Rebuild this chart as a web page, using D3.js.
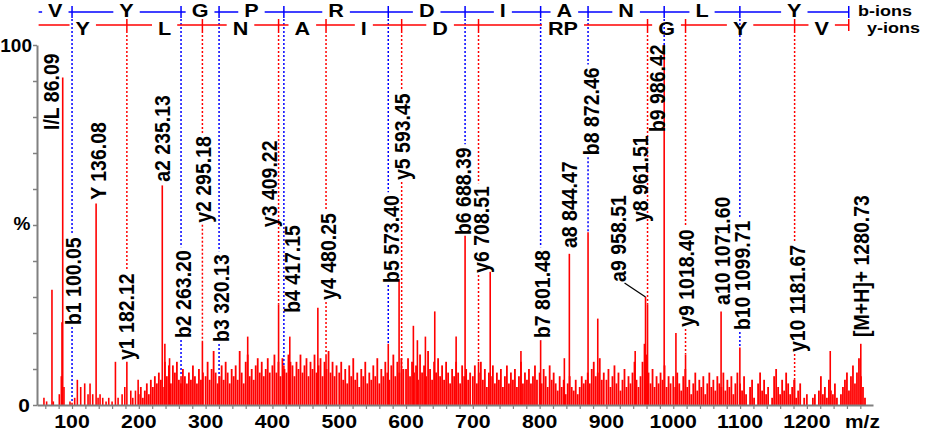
<!DOCTYPE html>
<html>
<head>
<meta charset="utf-8">
<script src="https://cdn.jsdelivr.net/npm/d3@7"></script>
<style>
  body { margin: 0; background: #fff; }
  svg { display: block; }
  text { font-family: "Liberation Sans", Arial, sans-serif; }
</style>
</head>
<body>
<div id="chart"></div>
<script>
// ---- data (m/z, relative intensity %) ----
// annotated fragment ions
const ionText = ['I/L 86.09', 'Y 136.08', 'a2 235.13', 'b1 100.05', 'y1 182.12', 'b2 263.20', 'y2 295.18',
  'b3 320.13', 'y3 409.22', 'b4 417.15', 'y4 480.25', 'b5 573.40', 'y5 593.45', 'b6 688.39', 'y6 708.51',
  'b7 801.48', 'a8 844.47', 'b8 872.46', 'a9 958.51', 'y8 961.51', 'b9 986.42', 'y9 1018.40',
  'a10 1071.60', 'b10 1099.71', 'y10 1181.67', '[M+H]+ 1280.73'];
const ionMz = [86.09, 136.08, 235.13, 100.05, 182.12, 263.20, 295.18, 320.13, 409.22, 417.15, 480.25,
  573.40, 593.45, 688.39, 708.51, 801.48, 844.47, 872.46, 958.51, 961.51, 986.42, 1018.40, 1071.60,
  1099.71, 1181.67, 1280.73];
const ionInt = [91, 56, 61, 0.6, 12, 8, 17.5, 8, 28, 11, 14, 17, 10, 47, 12, 18, 42, 48, 30, 28, 100, 14,
  26, 16, 7, 17];
const ionType = ['i', 'i', 'a', 'b', 'y', 'b', 'y', 'b', 'y', 'b', 'y', 'b', 'y', 'b', 'y', 'b', 'a', 'b',
  'a', 'y', 'b', 'y', 'a', 'b', 'y', 'i'];

// other strong peaks (unlabelled)
const peakMz = [58, 62, 70, 72, 81, 84, 85, 88, 97, 104, 108, 113, 119, 124, 127, 131, 139, 142, 146, 151,
  155, 160, 165, 169, 175, 179, 188, 191, 195, 199, 239, 246, 363, 426, 468, 589.6, 611, 617, 629, 643, 675,
  726, 772, 837, 887, 943, 1004, 1235];
const peakInt = [2, 1, 32, 1, 3, 8, 23, 5, 1, 2, 7, 5, 6, 3, 6, 3, 2, 3, 2, 1, 2, 1, 12, 2, 3, 5, 4, 2, 4,
  7, 17, 13, 19, 19, 27, 35, 22, 18, 19, 26, 19, 37, 15, 13, 24, 15, 20, 15];

// background noise, one value every 3 m/z starting at each hundred
const grass200 = [3, 5, 2, 4, 6, 3, 7, 5, 8, 6, 9, 7, 5, 12, 8, 11, 6, 11, 9, 12, 7, 6, 10, 8, 6, 9, 7, 11, 8, 6, 10, 7, 9];
const grass300 = [8, 12, 7, 10, 15, 9, 6, 8, 11, 7, 12, 9, 6, 10, 8, 11, 7, 15, 9, 6, 12, 14, 8, 10, 7, 11, 13, 9, 12, 8, 10, 13, 9];
const grass400 = [11, 14, 9, 12, 8, 13, 10, 9, 14, 12, 11, 8, 12, 10, 14, 9, 11, 13, 8, 12, 10, 14, 9, 11, 13, 8, 12, 10, 15, 9, 12, 8, 11];
const grass500 = [9, 12, 7, 10, 6, 11, 8, 13, 7, 9, 5, 10, 8, 12, 6, 9, 7, 11, 8, 13, 6, 10, 8, 12, 9, 7, 11, 14, 8, 12, 9, 13, 10];
const grass600 = [10, 13, 8, 12, 9, 11, 7, 14, 9, 11, 8, 15, 10, 7, 12, 9, 13, 8, 11, 7, 12, 9, 6, 10, 8, 12, 9, 6, 11, 8, 10, 7, 9];
const grass700 = [8, 11, 6, 9, 12, 7, 10, 5, 9, 8, 11, 6, 9, 7, 10, 5, 8, 11, 6, 9, 7, 10, 5, 8, 12, 6, 9, 7, 10, 6, 8, 11, 7];
const grass800 = [9, 6, 10, 8, 5, 11, 7, 9, 6, 4, 8, 5, 7, 3, 6, 8, 5, 4, 7, 3, 5, 8, 6, 7, 9, 6, 10, 12, 8, 9, 13, 7, 9];
const grass900 = [7, 10, 5, 8, 11, 6, 9, 4, 7, 10, 5, 8, 6, 9, 12, 7, 5, 8, 12, 17, 14, 9, 6, 10, 5, 8, 6, 9, 7, 11, 5, 8, 6];
const grass1000 = [8, 5, 9, 6, 4, 8, 10, 5, 7, 3, 6, 9, 4, 7, 5, 8, 3, 6, 9, 5, 7, 4, 8, 6, 5, 9, 4, 7, 5, 8, 3, 6, 9];
const grass1100 = [6, 4, 8, 3, 0, 5, 7, 2, 0, 6, 9, 4, 7, 3, 5, 0, 2, 8, 10, 5, 3, 7, 4, 9, 6, 3, 5, 7, 2, 4, 6, 0, 2];
const grass1200 = [3, 0, 0, 2, 3, 0, 4, 8, 3, 5, 2, 7, 4, 3, 6, 2, 0, 3, 5, 7, 9, 4, 8, 11, 6, 9, 13, 8, 5, 2, 0, 0, 0];

// sequence ladders
const bLadderMz = [50, 100.05, 263.20, 320.13, 417.15, 573.40, 688.39, 801.48, 872.46, 986.42, 1099.71, 1262.7];
const bResidues = ['V', 'Y', 'G', 'P', 'R', 'D', 'I', 'A', 'N', 'L', 'Y'];
const yLadderMz = [50, 182.12, 295.18, 409.22, 480.25, 593.45, 708.51, 961.51, 1018.40, 1181.67, 1262.7];
const yResidues = ['Y', 'L', 'N', 'A', 'I', 'D', 'RP', 'G', 'Y', 'V'];

const xTicks = [100, 200, 300, 400, 500, 600, 700, 800, 900, 1000, 1100, 1200];

// ---- label layout: level (% where the rotated text starts) and horizontal nudge (px) ----
const labelLevel = [76.4, 57, 62, 22.2, 12.5, 18.6, 50.6, 17.5, 49.4, 25.6, 29.2, 33.9, 62.5, 47.2, 36.7,
  18.6, 43.6, 69.4, 34.2, 50.8, 75.8, 21.7, 27.8, 20.8, 14.7, 18.9];
const labelShift = [-11, 2, 0, 1, -1, 2, 1, 2, -9, 8, 2, 3, 1, -2, 3, 2, 0, 3, -27, -7, -7, 1, 1, 2, 3, 0];

const W = 926, H = 433;
const RED = '#ff0000', BLUE = '#0000ff', GREY = '#808080';
const SX = 1.2; // glyphs in the source are drawn wide

const svg = d3.select('#chart').append('svg').attr('width', W).attr('height', H);

const x = d3.scaleLinear().domain([47.6, 1299]).range([37, 873]);
const y = d3.scaleLinear().domain([0, 100]).range([405, 45]);

// ---- spectrum ----
const spikes = [];
[[200, grass200], [300, grass300], [400, grass400], [500, grass500], [600, grass600], [700, grass700],
 [800, grass800], [900, grass900], [1000, grass1000], [1100, grass1100], [1200, grass1200]]
  .forEach(([start, vals]) => vals.forEach((v, i) => { if (v > 0) spikes.push({ mz: start + i * 3, v: v, w: 1.8 }); }));
peakMz.forEach((m, i) => spikes.push({ mz: m, v: peakInt[i], w: 1.6 }));
ionMz.forEach((m, i) => spikes.push({ mz: m, v: ionInt[i], w: 1.6 }));

svg.append('g').selectAll('line').data(spikes).enter().append('line')
  .attr('x1', d => x(d.mz)).attr('x2', d => x(d.mz))
  .attr('y1', y(0)).attr('y2', d => y(d.v))
  .attr('stroke', RED).attr('stroke-width', d => d.w);

// ---- axes ----
const yAxis = d3.axisLeft(y).tickValues(d3.range(0, 101, 10)).tickFormat('').tickSize(4).tickSizeOuter(0);
const yg = svg.append('g').attr('transform', 'translate(37,0)').call(yAxis);
yg.select('.domain').attr('stroke', GREY).attr('stroke-width', 2);
yg.selectAll('.tick line').attr('stroke', GREY).attr('stroke-width', 1.5);

const xAxis = d3.axisBottom(x).tickValues(d3.range(60, 1300, 20)).tickFormat('').tickSize(4).tickSizeOuter(0);
const xg = svg.append('g').attr('transform', 'translate(0,405)').call(xAxis);
xg.select('.domain').attr('stroke', GREY).attr('stroke-width', 2);
xg.selectAll('.tick line').attr('stroke', GREY).attr('stroke-width', 1.2);

function hText(str, cx, base, size, anchor, sx) {
  return svg.append('text')
    .attr('transform', `translate(${cx},${base}) scale(${sx || SX},1)`)
    .attr('text-anchor', anchor || 'middle')
    .attr('font-size', size).attr('font-weight', 'bold')
    .attr('fill', '#000').text(str);
}

xTicks.forEach(t => hText(String(t), x(t), 428, 19, 'middle', 1.12));
hText('m/z', 845, 428, 19, 'start', 1.1);
hText('100', 32, 52, 19, 'end', 1);
hText('0', 24, 412, 19, 'middle', 1.1);
hText('%', 22, 230, 19, 'middle', 1);

// ---- annotation labels + dotted guides ----
const guides = svg.append('g');
const labels = svg.append('g');
ionText.forEach((t, i) => {
  const px = x(ionMz[i]);
  const lx = px + labelShift[i];
  const base = y(labelLevel[i]);
  const txt = labels.append('text')
    .attr('transform', `translate(${lx},${base}) scale(1.1,1) rotate(-90)`)
    .attr('dy', '0.36em')
    .attr('font-size', 19.5).attr('font-weight', 'bold').attr('fill', '#000').text(t);
  const len = txt.node().getComputedTextLength();
  const top = base - len;
  const peakTop = y(ionInt[i]);

  if (ionType[i] === 'b' || ionType[i] === 'y') {
    const col = ionType[i] === 'b' ? BLUE : RED;
    const start = ionType[i] === 'b' ? 19 : 31;
    const segs = Math.abs(labelShift[i]) < 5
      ? [[start, top - 3], [base + 2, peakTop]]
      : [[start, peakTop]];
    segs.forEach(s => {
      if (s[1] > s[0]) {
        guides.append('line').attr('x1', px).attr('x2', px).attr('y1', s[0]).attr('y2', s[1])
          .attr('stroke', col).attr('stroke-width', 1.5).attr('stroke-dasharray', '2,2');
      }
    });
  }
  if (Math.abs(labelShift[i]) > 20) {
    // leader line from the label to its peak
    guides.append('line').attr('x1', lx + 6).attr('y1', base + 1)
      .attr('x2', px).attr('y2', peakTop)
      .attr('stroke', '#000').attr('stroke-width', 1.2);
  }
});

// ---- sequence ladders ----
function ladder(mzs, residues, lineY, textBase, col, tickTop, tickBot) {
  const g = svg.append('g');
  residues.forEach((r, i) => {
    const a = x(mzs[i]), b = x(mzs[i + 1]);
    const cx = (a + b) / 2;
    const t = g.append('text')
      .attr('transform', `translate(${cx},${textBase}) scale(${SX},1)`)
      .attr('text-anchor', 'middle').attr('font-size', 18).attr('font-weight', 'bold')
      .attr('fill', '#000').text(r);
    const half = t.node().getComputedTextLength() * SX / 2 + 6;
    [[a, cx - half], [cx + half, b]].forEach(s => {
      if (s[1] > s[0]) {
        g.append('line').attr('x1', s[0]).attr('x2', s[1]).attr('y1', lineY).attr('y2', lineY)
          .attr('stroke', col).attr('stroke-width', 1.5);
      }
    });
  });
  mzs.slice(1).forEach(m => {
    g.append('line').attr('x1', x(m)).attr('x2', x(m)).attr('y1', tickTop).attr('y2', tickBot)
      .attr('stroke', col).attr('stroke-width', 1.5);
  });
}
ladder(bLadderMz, bResidues, 12, 17, BLUE, 6, 18);
ladder(yLadderMz, yResidues, 25, 35, RED, 19, 31);

svg.append('text').attr('transform', `translate(858,16) scale(${SX},1)`)
  .attr('font-size', 15).attr('font-weight', 'bold').text('b-ions');
svg.append('text').attr('transform', `translate(867,33) scale(${SX},1)`)
  .attr('font-size', 15).attr('font-weight', 'bold').text('y-ions');
</script>
</body>
</html>
